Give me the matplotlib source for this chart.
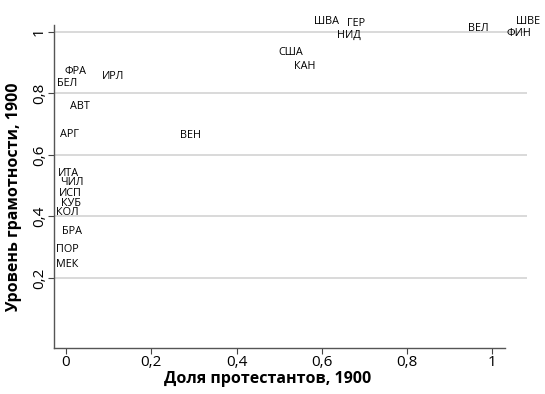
import matplotlib
matplotlib.use("Agg")
import matplotlib.pyplot as plt

# country labels (positions)
countries = ["ФРА", "БЕЛ", "ИРЛ", "АВТ", "АРГ", "ВЕН", "ИТА", "ЧИЛ", "ИСП", "КУБ",
             "КОЛ", "БРА", "ПОР", "МЕК", "ШВА", "ГЕР", "НИД", "ВЕЛ", "ШВЕ", "ФИН",
             "США", "КАН"]
protestant = [0.023, 0.004, 0.111, 0.033, 0.008, 0.293, 0.007, 0.015, 0.011, 0.011,
              0.004, 0.015, 0.004, 0.004, 0.611, 0.681, 0.664, 0.967, 1.084, 1.063,
              0.528, 0.560]
literacy = [0.871, 0.833, 0.855, 0.757, 0.665, 0.662, 0.540, 0.511, 0.475, 0.443,
            0.414, 0.351, 0.291, 0.242, 1.034, 1.026, 0.990, 1.012, 1.034, 0.996,
            0.933, 0.887]

xticks = [0, 0.2, 0.4, 0.6, 0.8, 1]
xticklabels = ["0", "0,2", "0,4", "0,6", "0,8", "1"]
yticks = [0.2, 0.4, 0.6, 0.8, 1]
yticklabels = ["0,2", "0,4", "0,6", "0,8", "1"]

plt.rcParams["font.family"] = ["Open Sans", "DejaVu Sans"]

fig = plt.figure(figsize=(5.45, 3.94), dpi=100)
ax = fig.add_axes([0.099, 0.117, 0.868, 0.820])

for name, x, y in zip(countries, protestant, literacy):
    ax.text(x, y, name, ha="center", va="center", fontsize=7.8, clip_on=False)

ax.set_xlim(-0.028, 1.081)
ax.set_ylim(-0.028, 1.023)
ax.set_xticks(xticks)
ax.set_xticklabels(xticklabels, fontsize=11)
ax.set_yticks(yticks)
ax.set_yticklabels(yticklabels, fontsize=11, rotation=90, va="center")
ax.tick_params(length=4, width=0.8, color="#444444", pad=1)
ax.grid(axis="y", color="#d9d9d9", linewidth=1.4)
ax.set_axisbelow(True)

for s in ["top", "right"]:
    ax.spines[s].set_visible(False)
for s in ["left", "bottom"]:
    ax.spines[s].set_color("#555555")
    ax.spines[s].set_linewidth(1.0)
ax.spines["bottom"].set_bounds(-0.028, 1.03)

ax.set_xlabel("Доля протестантов, 1900", fontsize=11.5, fontweight="bold")
ax.set_ylabel("Уровень грамотности, 1900", fontsize=11.5, fontweight="bold")
ax.xaxis.set_label_coords(0.452, -0.072)
ax.yaxis.set_label_coords(-0.068, 0.467)

fig.savefig("out.png", dpi=100)
